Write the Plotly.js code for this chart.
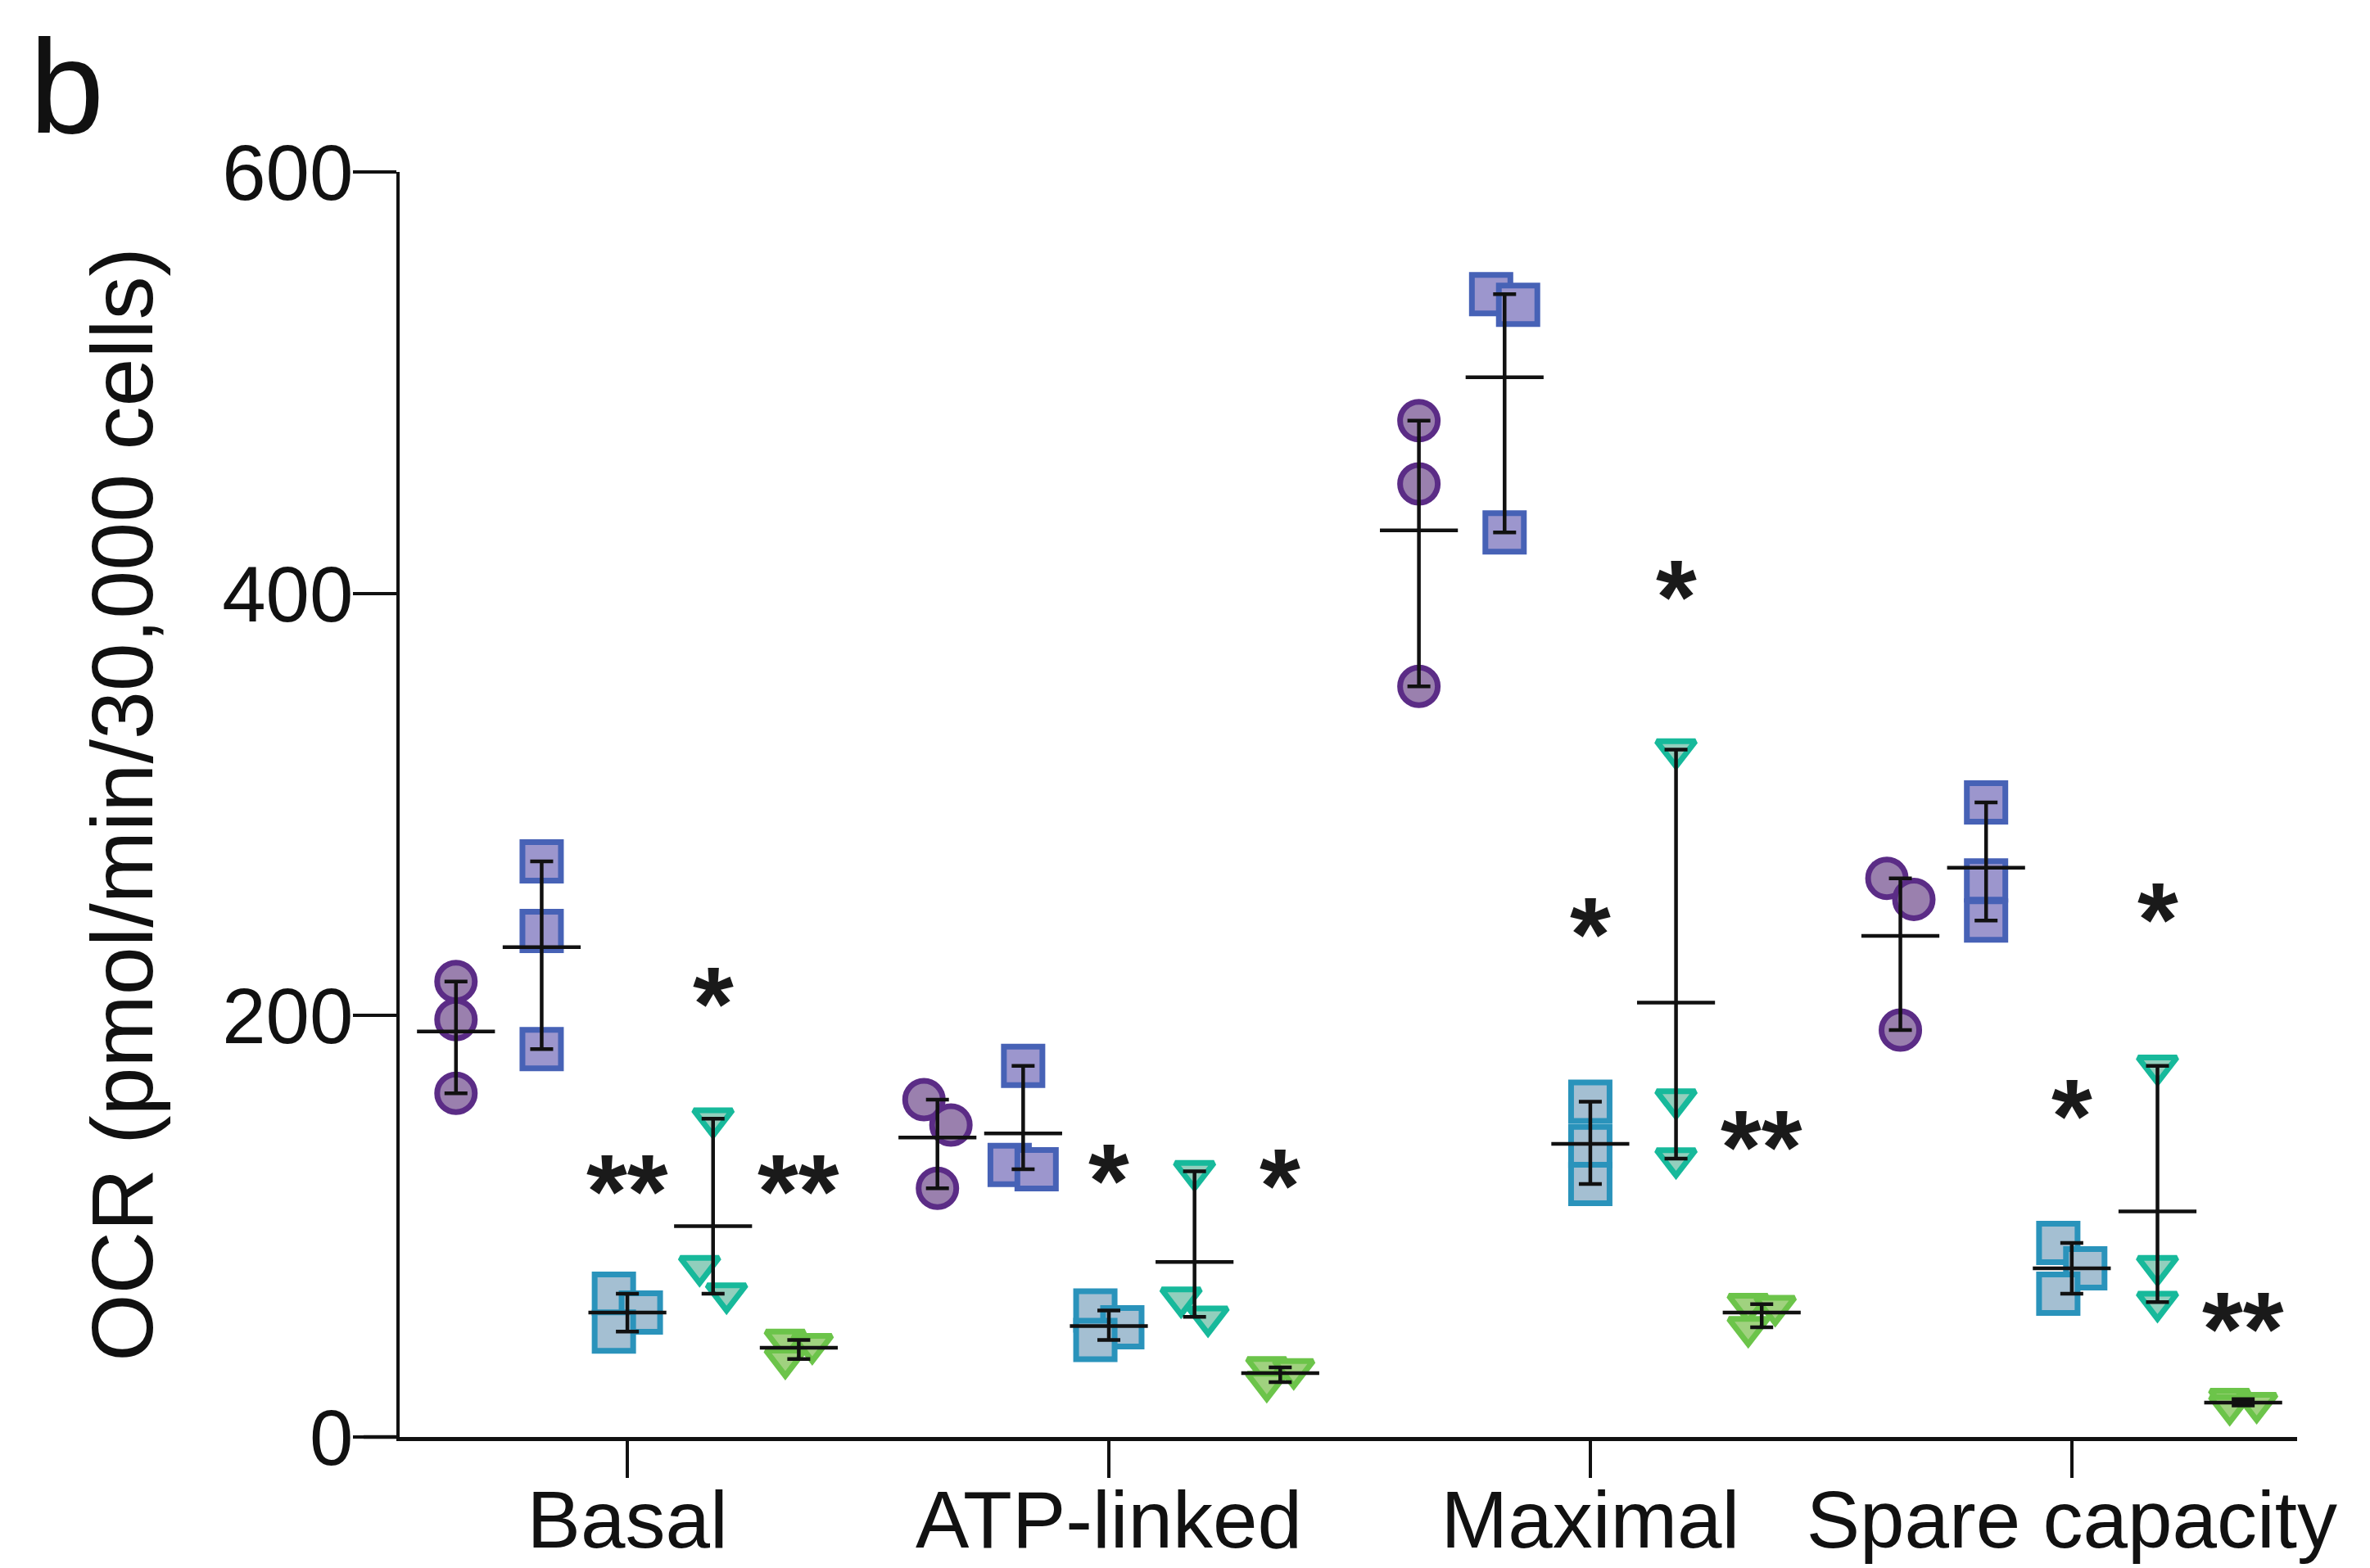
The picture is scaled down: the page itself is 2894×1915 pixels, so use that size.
<!DOCTYPE html>
<html>
<head>
<meta charset="utf-8">
<script src="https://cdn.plot.ly/plotly-3.0.1.min.js"></script>
<style>html,body{margin:0;padding:0;background:#fff;}#chart{width:2894px;height:1915px;}</style>
</head>
<body>
<div id="chart"></div>
<script>
// ---- Data ----
const categories = ['Basal', 'ATP-linked', 'Maximal', 'Spare capacity'];
const yTicks = [0, 200, 400, 600];

// three replicate values per category, one array per group
const groupCircle  = [[216, 198, 163], [160, 148, 118], [482, 452, 356], [265, 255, 193]];
const groupSquare  = [[273, 240, 184], [176, 129, 127], [542, 537, 429], [301, 264, 245]];
const groupSquare2 = [[68, 59, 50],    [60, 52, 46],    [159, 138, 120], [92, 80, 68]];
const groupTri     = [[151, 81, 68],   [126, 66, 57],   [326, 160, 132], [176, 81, 64]];
const groupTri2    = [[46, 44, 37],    [33, 32, 26],    [63, 62, 52],    [18, 16, 15]];

// significance marks and their heights (value units)
const sigSquare2 = ['**', '*', '*', '*'];
const sigSquare2Y = [122, 127, 244, 158];
const sigTri = ['*', '', '*', '*'];
const sigTriY = [211, 0, 404, 251];
const sigTri2 = ['**', '*', '**', '**'];
const sigTri2Y = [122, 125, 143, 57];

// ---- Styling ----
const FONT = 'Liberation Sans, Arial, Helvetica, sans-serif';
const groups = [
  {vals: groupCircle,  symbol: 'circle',        size: 46, fill: '#9a80ae', edge: '#5b2c86', sig: null,       sigY: null},
  {vals: groupSquare,  symbol: 'square',        size: 47, fill: '#9c96cd', edge: '#4762b6', sig: null,       sigY: null},
  {vals: groupSquare2, symbol: 'square',        size: 47, fill: '#a4bfd2', edge: '#2a93bb', sig: sigSquare2, sigY: sigSquare2Y},
  {vals: groupTri,     symbol: 'triangle-down', size: 41, fill: '#92cfbd', edge: '#17b99b', sig: sigTri,     sigY: sigTriY},
  {vals: groupTri2,    symbol: 'triangle-down', size: 41, fill: '#a0d27f', edge: '#6cc44a', sig: sigTri2,    sigY: sigTri2Y}
];
const groupStep = 0.178;
const jitterStep = 0.028;   // horizontal spread for overlapping points (like a scatter-dot plot)
const overlapLimit = 15;    // value units

function jitterOffsets(vals) {
  const order = vals.map((v, i) => i).sort((a, b) => vals[b] - vals[a]);
  const offs = new Array(vals.length).fill(0);
  for (let k = 1; k < order.length; k++) {
    const cur = order[k], prev = order[k - 1];
    if (Math.abs(vals[prev] - vals[cur]) < overlapLimit) {
      if (offs[prev] === 0) { offs[prev] = -jitterStep; offs[cur] = jitterStep; }
      else { offs[cur] = -offs[prev]; }
    }
  }
  return offs;
}

const pointTraces = [], barTraces = [], meanTraces = [], annotations = [];
groups.forEach((g, gi) => {
  const off = (gi - 2) * groupStep;
  const px = [], py = [];
  const mx = [], my = [], ePlus = [], eMinus = [];
  g.vals.forEach((vals, ci) => {
    const jit = jitterOffsets(vals);
    vals.forEach((v, k) => { px.push(ci + off + jit[k]); py.push(v); });
    const mean = vals.reduce((a, b) => a + b, 0) / vals.length;
    const mxv = Math.max(...vals), mnv = Math.min(...vals);
    mx.push(ci + off); my.push(mean);
    ePlus.push(mxv - mean); eMinus.push(mean - mnv);
    if (g.sig && g.sig[ci]) {
      annotations.push({
        x: ci + off, y: g.sigY[ci], xref: 'x', yref: 'y',
        text: '<b>' + g.sig[ci] + '</b>', showarrow: false,
        font: {family: FONT, size: 128, color: '#1a1a1a'},
        xanchor: 'center', yanchor: 'middle', yshift: -14
      });
    }
  });
  pointTraces.push({
    type: 'scatter', mode: 'markers', x: px, y: py, hoverinfo: 'skip',
    marker: {symbol: g.symbol, size: g.size, color: g.fill, opacity: 1,
             line: {color: g.edge, width: 7}}
  });
  barTraces.push({
    type: 'scatter', mode: 'markers', x: mx, y: my, hoverinfo: 'skip',
    marker: {size: 1, color: 'rgba(0,0,0,0)'},
    error_y: {type: 'data', symmetric: false, array: ePlus, arrayminus: eMinus,
              color: '#111', thickness: 4.5, width: 14}
  });
  meanTraces.push({
    type: 'scatter', mode: 'markers', x: mx, y: my, hoverinfo: 'skip',
    marker: {symbol: 'line-ew', size: 68, color: '#111', line: {color: '#111', width: 4.5}}
  });
});

// panel label
annotations.push({
  xref: 'paper', yref: 'paper', x: -0.196, y: 1.128, xanchor: 'left', yanchor: 'top',
  text: 'b', showarrow: false, font: {family: FONT, size: 164, color: '#111'}
});

const layout = {
  width: 2894, height: 1915,
  margin: {l: 488, r: 89, t: 210, b: 160},
  paper_bgcolor: '#fff', plot_bgcolor: '#fff',
  showlegend: false,
  font: {family: FONT, color: '#111'},
  xaxis: {
    range: [-0.473, 3.468], tickvals: [0, 1, 2, 3], ticktext: categories,
    showgrid: false, zeroline: false, showline: true, linecolor: '#111', linewidth: 4.5,
    ticks: 'outside', ticklen: 45, tickwidth: 3.5, tickcolor: '#111',
    ticklabelstandoff: -32,
    tickfont: {family: FONT, size: 98, color: '#111'}, fixedrange: true
  },
  yaxis: {
    range: [0, 600], tickvals: yTicks,
    showgrid: false, zeroline: false, showline: true, linecolor: '#111', linewidth: 4.5,
    ticks: 'outside', ticklen: 53, tickwidth: 3.5, tickcolor: '#111',
    ticklabelstandoff: -20,
    tickfont: {family: FONT, size: 96, color: '#111'},
    title: {text: 'OCR (pmol/min/30,000 cells)', font: {family: FONT, size: 106, color: '#111'}, standoff: 50},
    fixedrange: true
  },
  shapes: [{type: 'line', xref: 'paper', yref: 'paper', x0: -0.019, x1: 0, y0: 0, y1: 0,
            line: {color: '#111', width: 4.5}}],
  annotations: annotations
};

Plotly.newPlot('chart', pointTraces.concat(barTraces, meanTraces), layout, {displayModeBar: false, staticPlot: true});
</script>
</body>
</html>
